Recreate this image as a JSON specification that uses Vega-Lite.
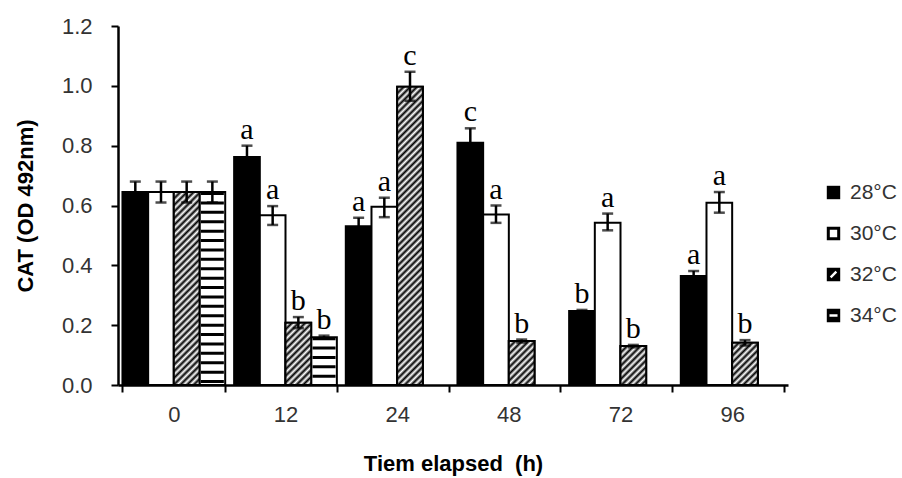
{
  "$schema": "https://vega.github.io/schema/vega-lite/v6.json",
  "width": 670,
  "height": 359,
  "autosize": {"type": "none"},
  "padding": {"left": 118, "top": 26, "right": 114, "bottom": 93},
  "background": "white",
  "config": {"view": {"stroke": null}},
  "data": {
    "values": [
      {"time": "0", "temp": "28°C", "value": 0.645, "lo": 0.61, "hi": 0.68, "letter": ""},
      {"time": "0", "temp": "30°C", "value": 0.645, "lo": 0.61, "hi": 0.68, "letter": ""},
      {"time": "0", "temp": "32°C", "value": 0.645, "lo": 0.61, "hi": 0.68, "letter": ""},
      {"time": "0", "temp": "34°C", "value": 0.645, "lo": 0.61, "hi": 0.68, "letter": ""},
      {"time": "12", "temp": "28°C", "value": 0.762, "lo": 0.72, "hi": 0.8, "letter": "a"},
      {"time": "12", "temp": "30°C", "value": 0.567, "lo": 0.535, "hi": 0.598, "letter": "a"},
      {"time": "12", "temp": "32°C", "value": 0.208, "lo": 0.19, "hi": 0.227, "letter": "b"},
      {"time": "12", "temp": "34°C", "value": 0.16, "lo": 0.155, "hi": 0.165, "letter": "b"},
      {"time": "24", "temp": "28°C", "value": 0.531, "lo": 0.5, "hi": 0.559, "letter": "a"},
      {"time": "24", "temp": "30°C", "value": 0.596, "lo": 0.561, "hi": 0.626, "letter": "a"},
      {"time": "24", "temp": "32°C", "value": 0.997, "lo": 0.95, "hi": 1.047, "letter": "c"},
      {"time": "48", "temp": "28°C", "value": 0.81, "lo": 0.76, "hi": 0.858, "letter": "c"},
      {"time": "48", "temp": "30°C", "value": 0.57, "lo": 0.542, "hi": 0.6, "letter": "a"},
      {"time": "48", "temp": "32°C", "value": 0.147, "lo": 0.142, "hi": 0.152, "letter": "b"},
      {"time": "72", "temp": "28°C", "value": 0.247, "lo": 0.243, "hi": 0.251, "letter": "b"},
      {"time": "72", "temp": "30°C", "value": 0.542, "lo": 0.517, "hi": 0.573, "letter": "a"},
      {"time": "72", "temp": "32°C", "value": 0.13, "lo": 0.126, "hi": 0.134, "letter": "b"},
      {"time": "96", "temp": "28°C", "value": 0.364, "lo": 0.347, "hi": 0.381, "letter": "a"},
      {"time": "96", "temp": "30°C", "value": 0.609, "lo": 0.576, "hi": 0.645, "letter": "a"},
      {"time": "96", "temp": "32°C", "value": 0.141, "lo": 0.132, "hi": 0.15, "letter": "b"}
    ]
  },
  "encoding": {
    "x": {
      "field": "time", "type": "nominal",
      "sort": ["0", "12", "24", "48", "72", "96"],
      "scale": {"paddingInner": 0.08, "paddingOuter": 0.04},
      "axis": {
        "title": "Tiem elapsed\u00a0 (h)", "labelAngle": 0, "tickBand": "extent",
        "domainColor": "black", "domainWidth": 2.5, "tickColor": "black", "tickWidth": 2, "tickSize": 7,
        "labelFont": "Liberation Sans", "labelFontSize": 22, "labelColor": "#333333", "labelPadding": 12,
        "titleFont": "Liberation Sans", "titleFontSize": 22, "titleFontWeight": "bold", "titleColor": "black",
        "titleY": 85, "titleBaseline": "alphabetic"
      }
    },
    "xOffset": {
      "field": "temp", "type": "nominal",
      "sort": ["28°C", "30°C", "32°C", "34°C"],
      "scale": {"domain": ["28°C", "30°C", "32°C", "34°C"], "paddingInner": 0, "paddingOuter": 0}
    },
    "y": {
      "field": "value", "type": "quantitative", "title": "CAT (OD 492nm)",
      "scale": {"domain": [0, 1.2], "nice": false},
      "axis": {
        "values": [0, 0.2, 0.4, 0.6, 0.8, 1.0, 1.2], "format": ".1f", "grid": false,
        "domainColor": "black", "domainWidth": 2.5, "tickColor": "black", "tickWidth": 2, "tickSize": 7,
        "labelFont": "Liberation Sans", "labelFontSize": 22, "labelColor": "#333333", "labelPadding": 19,
        "titleFont": "Liberation Sans", "titleFontSize": 22, "titleFontWeight": "bold", "titleColor": "black",
        "titleX": -93, "titleY": 179.5, "titleAngle": 270, "titleAlign": "center", "titleBaseline": "middle"
      }
    }
  },
  "layer": [
    {
      "mark": {"type": "bar", "stroke": "black", "strokeWidth": 2},
      "encoding": {
        "fill": {
          "condition": [
            {"test": "datum.temp == '28°C'", "value": "#000000"},
            {"test": "datum.temp == '32°C'", "value": "#888888"}
          ],
          "value": "#ffffff"
        }
      }
    },
    {
      "transform": [{"filter": "datum.temp == '32°C'"}],
      "mark": {
        "type": "bar", "stroke": "black", "strokeWidth": 2,
        "fill": {"expr": "{gradient:'linear',x1:0,y1:0,x2:332.3*25.7/(660.5+pow(datum.value*299.17,2)),y2:332.3*datum.value*299.17/(660.5+pow(datum.value*299.17,2)),stops:[{offset:0,color:'#000'},{offset:0.01,color:'#fff'},{offset:0.02,color:'#000'},{offset:0.03,color:'#fff'},{offset:0.04,color:'#000'},{offset:0.05,color:'#fff'},{offset:0.06,color:'#000'},{offset:0.07,color:'#fff'},{offset:0.08,color:'#000'},{offset:0.09,color:'#fff'},{offset:0.1,color:'#000'},{offset:0.11,color:'#fff'},{offset:0.12,color:'#000'},{offset:0.13,color:'#fff'},{offset:0.14,color:'#000'},{offset:0.15,color:'#fff'},{offset:0.16,color:'#000'},{offset:0.17,color:'#fff'},{offset:0.18,color:'#000'},{offset:0.19,color:'#fff'},{offset:0.2,color:'#000'},{offset:0.21,color:'#fff'},{offset:0.22,color:'#000'},{offset:0.23,color:'#fff'},{offset:0.24,color:'#000'},{offset:0.25,color:'#fff'},{offset:0.26,color:'#000'},{offset:0.27,color:'#fff'},{offset:0.28,color:'#000'},{offset:0.29,color:'#fff'},{offset:0.3,color:'#000'},{offset:0.31,color:'#fff'},{offset:0.32,color:'#000'},{offset:0.33,color:'#fff'},{offset:0.34,color:'#000'},{offset:0.35,color:'#fff'},{offset:0.36,color:'#000'},{offset:0.37,color:'#fff'},{offset:0.38,color:'#000'},{offset:0.39,color:'#fff'},{offset:0.4,color:'#000'},{offset:0.41,color:'#fff'},{offset:0.42,color:'#000'},{offset:0.43,color:'#fff'},{offset:0.44,color:'#000'},{offset:0.45,color:'#fff'},{offset:0.46,color:'#000'},{offset:0.47,color:'#fff'},{offset:0.48,color:'#000'},{offset:0.49,color:'#fff'},{offset:0.5,color:'#000'},{offset:0.51,color:'#fff'},{offset:0.52,color:'#000'},{offset:0.53,color:'#fff'},{offset:0.54,color:'#000'},{offset:0.55,color:'#fff'},{offset:0.56,color:'#000'},{offset:0.57,color:'#fff'},{offset:0.58,color:'#000'},{offset:0.59,color:'#fff'},{offset:0.6,color:'#000'},{offset:0.61,color:'#fff'},{offset:0.62,color:'#000'},{offset:0.63,color:'#fff'},{offset:0.64,color:'#000'},{offset:0.65,color:'#fff'},{offset:0.66,color:'#000'},{offset:0.67,color:'#fff'},{offset:0.68,color:'#000'},{offset:0.69,color:'#fff'},{offset:0.7,color:'#000'},{offset:0.71,color:'#fff'},{offset:0.72,color:'#000'},{offset:0.73,color:'#fff'},{offset:0.74,color:'#000'},{offset:0.75,color:'#fff'},{offset:0.76,color:'#000'},{offset:0.77,color:'#fff'},{offset:0.78,color:'#000'},{offset:0.79,color:'#fff'},{offset:0.8,color:'#000'},{offset:0.81,color:'#fff'},{offset:0.82,color:'#000'},{offset:0.83,color:'#fff'},{offset:0.84,color:'#000'},{offset:0.85,color:'#fff'},{offset:0.86,color:'#000'},{offset:0.87,color:'#fff'},{offset:0.88,color:'#000'},{offset:0.89,color:'#fff'},{offset:0.9,color:'#000'},{offset:0.91,color:'#fff'},{offset:0.92,color:'#000'},{offset:0.93,color:'#fff'},{offset:0.94,color:'#000'},{offset:0.95,color:'#fff'},{offset:0.96,color:'#000'},{offset:0.97,color:'#fff'},{offset:0.98,color:'#000'},{offset:0.99,color:'#fff'},{offset:1,color:'#000'}]}"}
      }
    },
    {
      "transform": [{"filter": "datum.temp == '34°C'"}],
      "mark": {"type": "rule", "color": "black", "strokeWidth": 23, "strokeDash": [3, 6.4]},
      "encoding": {"y2": {"datum": 0}}
    },
    {
      "mark": {"type": "point", "filled": true, "color": "black", "opacity": 0},
      "encoding": {
        "shape": {
          "field": "temp", "type": "nominal",
          "scale": {
            "domain": ["28°C", "30°C", "32°C", "34°C"],
            "range": [
              "M-1,-1H1V1H-1Z",
              "M-1,-1H1V1H-1ZM-0.55,-0.55V0.55H0.55V-0.55Z",
              "M-1,-1H1V1H-1ZM-0.55,0.3L-0.3,0.55L0.55,-0.3L0.3,-0.55Z",
              "M-1,-1H1V1H-1ZM-0.6,-0.2V0.2H0.6V-0.2Z"
            ]
          },
          "legend": {
            "title": null, "orient": "none", "legendX": 705, "legendY": 156, "padding": 0,
            "symbolSize": 180, "symbolFillColor": "black", "symbolOpacity": 1, "symbolStrokeWidth": 0,
            "labelFont": "Liberation Sans", "labelFontSize": 21, "labelColor": "#333333", "labelOffset": 6,
            "rowPadding": 19
          }
        }
      }
    },
    {
      "mark": {"type": "rule", "color": "black", "strokeWidth": 2.5},
      "encoding": {
        "y": {"field": "lo", "type": "quantitative", "title": "CAT (OD 492nm)"},
        "y2": {"field": "hi"}
      }
    },
    {
      "mark": {"type": "tick", "orient": "horizontal", "color": "black", "size": 11, "thickness": 2.5},
      "encoding": {"y": {"field": "hi", "type": "quantitative", "title": "CAT (OD 492nm)"}}
    },
    {
      "mark": {"type": "tick", "orient": "horizontal", "color": "black", "size": 11, "thickness": 2.5},
      "encoding": {"y": {"field": "lo", "type": "quantitative", "title": "CAT (OD 492nm)"}}
    },
    {
      "transform": [{"filter": "datum.letter != ''"}],
      "mark": {"type": "text", "font": "Liberation Serif", "fontSize": 30, "baseline": "alphabetic", "dy": -7, "color": "black"},
      "encoding": {
        "y": {"field": "hi", "type": "quantitative", "title": "CAT (OD 492nm)"},
        "text": {"field": "letter"}
      }
    }
  ]
}
